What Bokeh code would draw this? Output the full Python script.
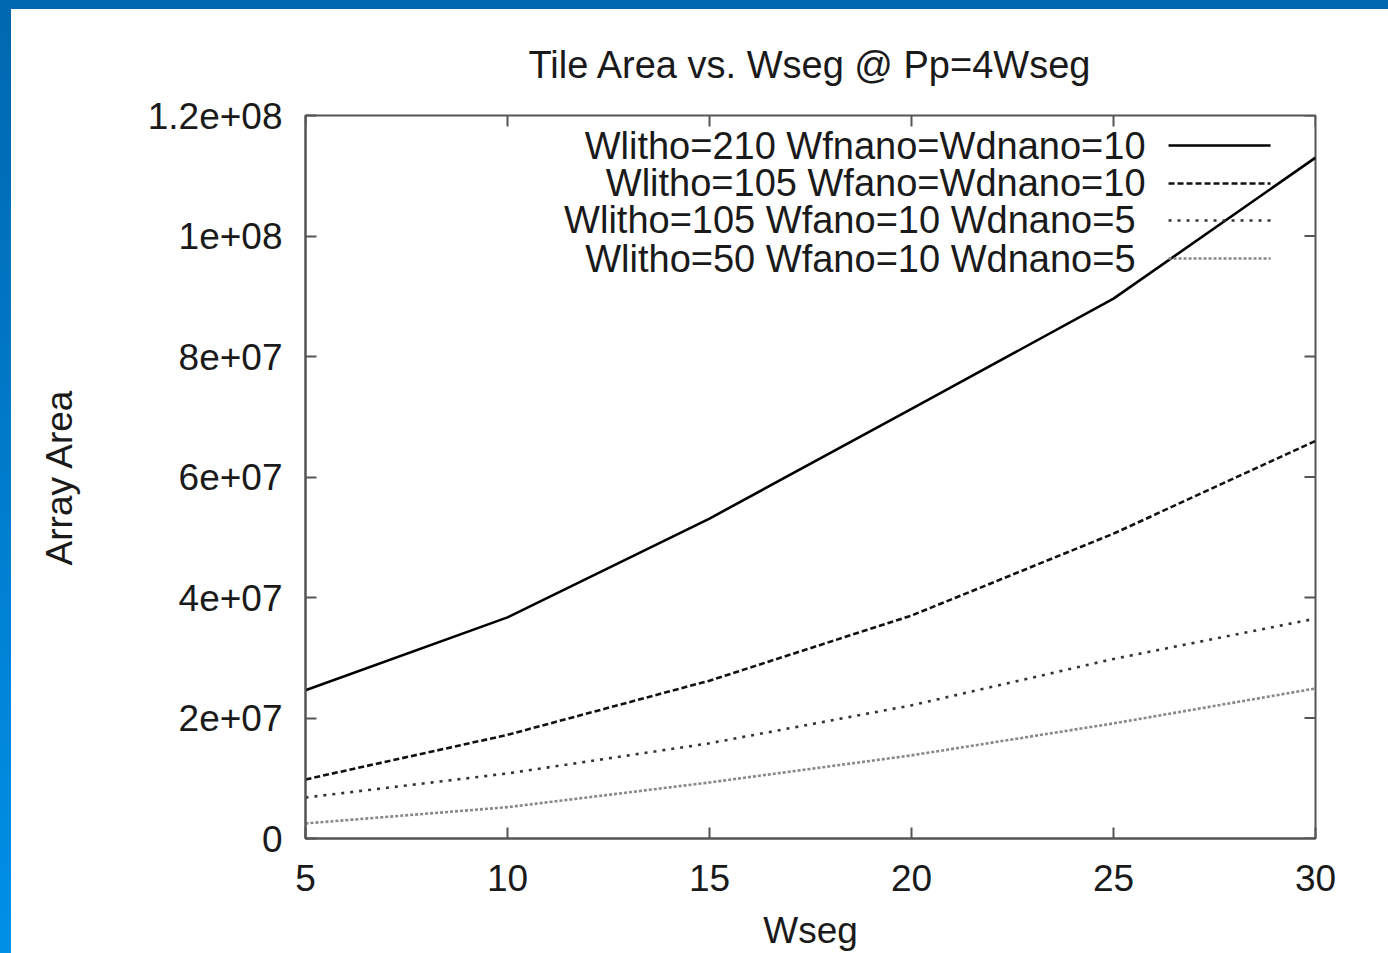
import math
from bokeh.plotting import figure
from bokeh.models import ColumnDataSource, FixedTicker, LinearAxis, Range1d, Div
from bokeh.layouts import column, row
from bokeh.embed import file_html
from bokeh.resources import INLINE
from bokeh.core.properties import value

# ---- data ----
wseg = [5, 10, 15, 20, 25, 30]
s_210_10_10 = [2.46e7, 3.67e7, 5.31e7, 7.13e7, 8.96e7, 1.13e8]
s_105_10_10 = [9.8e6, 1.72e7, 2.62e7, 3.70e7, 5.06e7, 6.60e7]
s_105_10_5 = [6.8e6, 1.08e7, 1.58e7, 2.21e7, 2.98e7, 3.65e7]
s_50_10_5 = [2.5e6, 5.2e6, 9.3e6, 1.38e7, 1.91e7, 2.49e7]
series_labels = [
    "Wlitho=210 Wfnano=Wdnano=10",
    "Wlitho=105 Wfano=Wdnano=10",
    "Wlitho=105 Wfano=10 Wdnano=5",
    "Wlitho=50 Wfano=10 Wdnano=5",
]
x_ticks = [5, 10, 15, 20, 25, 30]
y_ticks = [0, 2e7, 4e7, 6e7, 8e7, 1e8, 1.2e8]
y_tick_labels = ["0", "2e+07", "4e+07", "6e+07", "8e+07", "1e+08", "1.2e+08"]
title_text = "Tile Area vs. Wseg @ Pp=4Wseg"
x_label = "Wseg"
y_label = "Array Area"

FONT = "Liberation Sans"
FS = "37px"
FS_BIG = "38px"
TXT = "#1a1a1a"
AX = "#555555"

x0, x1 = 5, 30
y0, y1 = 0, 1.2e8
xspan = x1 - x0
yspan = y1 - y0

p = figure(
    width=1377, height=944,
    output_backend="svg", toolbar_location=None,
    x_range=Range1d(x0, x1), y_range=Range1d(y0, y1),
    min_border_left=294, min_border_right=73,
    min_border_top=106, min_border_bottom=115,
    x_axis_type=None, y_axis_type=None,
)
p.background_fill_color = "white"
p.border_fill_color = "white"
p.outline_line_color = AX
p.outline_line_width = 2
p.xgrid.visible = False
p.ygrid.visible = False

p.title.text = title_text
p.title.align = "center"
p.title.text_font = FONT
p.title.text_font_size = FS_BIG
p.title.text_font_style = "normal"
p.title.text_color = TXT
p.title.standoff = 60


def style_axis(ax):
    ax.axis_line_color = AX
    ax.axis_line_width = 2
    ax.major_tick_in = 11
    ax.major_tick_out = 0
    ax.minor_tick_in = 0
    ax.minor_tick_out = 0
    ax.major_tick_line_color = AX
    ax.major_tick_line_width = 2
    ax.major_label_text_font = FONT
    ax.major_label_text_font_size = FS
    ax.major_label_text_color = TXT
    ax.axis_label_text_font = FONT
    ax.axis_label_text_font_size = FS
    ax.axis_label_text_font_style = "normal"
    ax.axis_label_text_color = TXT


xb = LinearAxis(ticker=FixedTicker(ticks=x_ticks), axis_label=x_label)
style_axis(xb)
xb.major_label_standoff = 26
xb.axis_label_standoff = 16
p.add_layout(xb, "below")

yl = LinearAxis(ticker=FixedTicker(ticks=y_ticks), axis_label=y_label)
style_axis(yl)
yl.major_label_overrides = {t: l for t, l in zip(y_ticks, y_tick_labels)}
yl.major_label_standoff = 23
yl.axis_label_standoff = 65
p.add_layout(yl, "left")

# mirrored inward ticks on the top and right edges (half of each dash is clipped by the frame)
p.scatter(x=x_ticks, y=[y1] * len(x_ticks), marker="dash", size=22,
          angle=math.pi / 2, line_color=AX, line_width=2)
p.scatter(x=[x1] * len(y_ticks), y=y_ticks, marker="dash", size=22,
          line_color=AX, line_width=2)

styles = [
    dict(color="#000000", dash="solid", width=2.6),
    dict(color="#111111", dash="6 3", width=2.6),
    dict(color="#333333", dash="3 6", width=2.6),
    dict(color="#888888", dash="3 2", width=2.6),
]
all_series = [s_210_10_10, s_105_10_10, s_105_10_5, s_50_10_5]

for ys, st in zip(all_series, styles):
    src = ColumnDataSource(dict(x=wseg, y=ys))
    p.line("x", "y", source=src, line_color=st["color"], line_dash=st["dash"],
           line_width=st["width"])

# ---- gnuplot-style key: right-aligned labels with the sample line to the right ----
text_right = [x0 + xspan * f for f in (0.8317, 0.8317, 0.8218, 0.8218)]
samp_a = x0 + xspan * 0.8545
samp_b = x0 + xspan * 0.9555
row_y = [y1 - yspan * f for f in (0.0415, 0.0940, 0.1452, 0.1978)]

key_src = ColumnDataSource(dict(x=text_right, y=row_y, t=series_labels))
p.text("x", "y", text="t", source=key_src, text_align="right",
       text_baseline="middle", text_font=value(FONT), text_font_size=FS_BIG,
       text_color=TXT)
for yy, st in zip(row_y, styles):
    p.segment(x0=[samp_a], y0=[yy], x1=[samp_b], y1=[yy], line_color=st["color"],
              line_dash=st["dash"], line_width=st["width"])

top_bar = Div(width=1388, height=9, margin=0,
              styles={"background-color": "#0068B0"})
left_bar = Div(width=11, height=944, margin=0,
               styles={"background": "linear-gradient(#0068B0, #0090E8)"})
p.margin = 0
layout = column(top_bar, row(left_bar, p, spacing=0), spacing=0)

open("out.html", "w").write(file_html(layout, INLINE))
